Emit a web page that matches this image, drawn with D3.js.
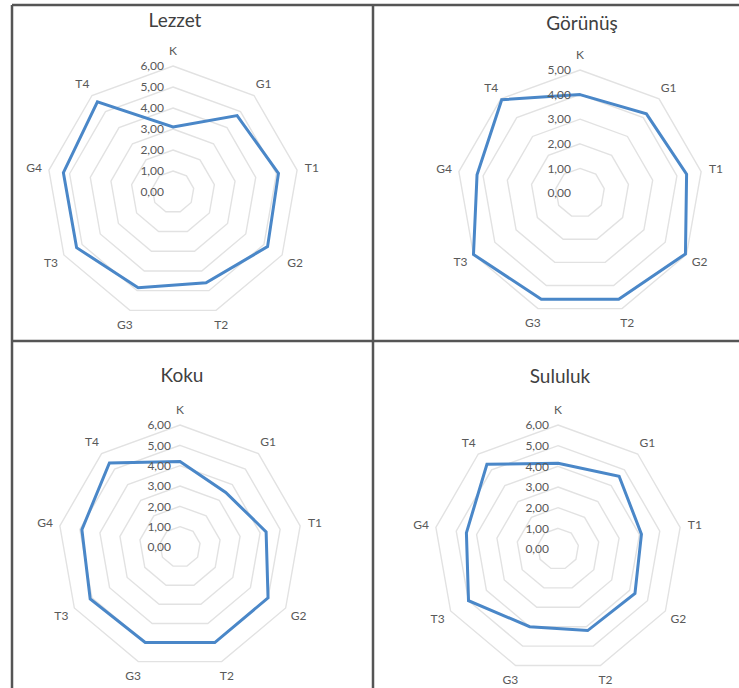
<!DOCTYPE html>
<html>
<head>
<meta charset="UTF-8">
<title>Radar charts</title>
<script src="https://d3js.org/d3.v7.min.js"></script>
<style>
  body { margin: 0; background: #fff; }
  svg { display: block; }
  text { font-family: Lato, "Open Sans", sans-serif; fill: #595959; }
</style>
</head>
<body>
<svg id="chart" width="739" height="688"></svg>
<script>
// categories around the radar, clockwise from the top
const categories = ["K", "G1", "T1", "G2", "T2", "G3", "T3", "G4", "T4"];

// one series per panel
const lezzet  = [3.1, 4.75, 5.1, 5.2, 4.6, 4.85, 5.3, 5.3, 5.6];
const gorunus = [4.0, 4.2, 4.4, 4.95, 4.6, 4.6, 5.0, 4.25, 4.95];
const koku    = [4.2, 3.5, 4.3, 5.0, 5.0, 5.0, 5.1, 4.9, 5.4];
const sululuk = [4.15, 4.6, 4.1, 4.3, 4.2, 4.0, 5.0, 4.5, 5.35];

const titles = ["Lezzet", "Görünüş", "Koku", "Sululuk"];
const seriesList = [lezzet, gorunus, koku, sululuk];
const maxTicks = [6, 5, 6, 6];

// panel layout: centre and outer radius
const layout = [
  {cx: 173, cy: 192, r: 126, ty: 20},
  {cx: 580, cy: 193, r: 123, ty: 23},
  {cx: 180, cy: 547, r: 122, ty: 375},
  {cx: 558, cy: 549, r: 124, ty: 376}
];

const svg = d3.select("#chart");
const fmt = v => d3.format(".2f")(v).replace(".", ",");
const angle = i => i * 2 * Math.PI / categories.length;

seriesList.forEach((values, p) => {
  const L = layout[p];
  const maxV = maxTicks[p];
  const r = d3.scaleLinear().domain([0, maxV]).range([0, L.r]);
  const ticks = d3.range(0, maxV + 1);

  const g = svg.append("g").attr("transform", `translate(${L.cx},${L.cy})`);

  // grid rings
  const ring = d3.lineRadial()
    .angle((d, i) => angle(i))
    .radius(d => d)
    .curve(d3.curveLinearClosed);

  g.selectAll("path.ring")
    .data(ticks.filter(t => t > 0))
    .enter()
    .append("path")
    .attr("class", "ring")
    .attr("d", t => ring(categories.map(() => r(t))))
    .attr("fill", "none")
    .attr("stroke", "#e2e2e2")
    .attr("stroke-width", 1.4);

  // series line
  const line = d3.lineRadial()
    .angle((d, i) => angle(i))
    .radius(d => r(d))
    .curve(d3.curveLinearClosed);

  g.append("path")
    .attr("d", line(values))
    .attr("fill", "none")
    .attr("stroke", "#4a87c8")
    .attr("stroke-width", 3)
    .attr("stroke-linejoin", "miter");

  // value labels on the vertical axis
  g.selectAll("text.tick")
    .data(ticks)
    .enter()
    .append("text")
    .attr("class", "tick")
    .attr("x", -9)
    .attr("y", t => -r(t))
    .attr("dy", "0.35em")
    .attr("text-anchor", "end")
    .style("font-size", "12px")
    .text(fmt);

  // category labels
  g.selectAll("text.cat")
    .data(categories)
    .enter()
    .append("text")
    .attr("class", "cat")
    .attr("x", (d, i) => Math.sin(angle(i)) * (L.r + 15))
    .attr("y", (d, i) => -Math.cos(angle(i)) * (L.r + 15))
    .attr("dy", "0.35em")
    .attr("text-anchor", "middle")
    .style("font-size", "12px")
    .text(d => d);

  // title
  svg.append("text")
    .attr("x", L.cx + 2)
    .attr("y", L.ty)
    .attr("dy", "0.35em")
    .attr("text-anchor", "middle")
    .style("font-size", "19px")
    .style("fill", "#404040")
    .text(titles[p]);
});

// panel borders
const borders = [
  [12, 5, 739, 5],
  [12, 341, 739, 341],
  [12, 5, 12, 688],
  [373, 5, 373, 688]
];
svg.selectAll("line.border")
  .data(borders)
  .enter()
  .append("line")
  .attr("class", "border")
  .attr("x1", d => d[0]).attr("y1", d => d[1])
  .attr("x2", d => d[2]).attr("y2", d => d[3])
  .attr("stroke", "#555")
  .attr("stroke-width", 2.5);
</script>
</body>
</html>
